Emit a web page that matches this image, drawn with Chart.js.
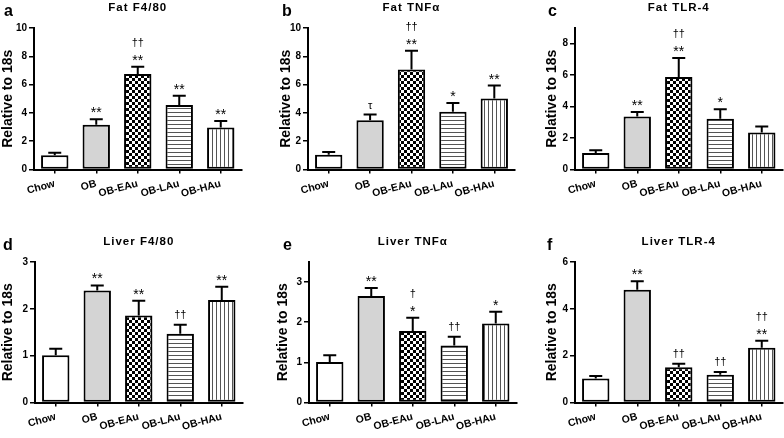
<!DOCTYPE html>
<html>
<head>
<meta charset="utf-8">
<script src="https://cdn.jsdelivr.net/npm/chart.js@4.4.0/dist/chart.umd.min.js"></script>
<style>
html, body { margin: 0; padding: 0; background: #fff; }
body { width: 784px; height: 438px; position: relative; overflow: hidden; }
.panel { position: absolute; }
.panel canvas { display: block; }
</style>
</head>
<body>
<div class="panel" style="left:0;top:0"><canvas id="a" width="260" height="205"></canvas></div>
<div class="panel" style="left:260px;top:0"><canvas id="b" width="260" height="205"></canvas></div>
<div class="panel" style="left:520px;top:0"><canvas id="c" width="264" height="205"></canvas></div>
<div class="panel" style="left:0;top:215px"><canvas id="d" width="260" height="223"></canvas></div>
<div class="panel" style="left:260px;top:215px"><canvas id="e" width="260" height="223"></canvas></div>
<div class="panel" style="left:520px;top:215px"><canvas id="f" width="264" height="223"></canvas></div>
<script>
// groups on the x axis
const groups = ['Chow', 'OB', 'OB-EAu', 'OB-LAu', 'OB-HAu'];

// a - Fat F4/80
const fatF480 = [1.0, 3.17, 6.75, 4.55, 2.96];
const fatF480Err = [0.18, 0.38, 0.52, 0.66, 0.47];
const fatF480Sig = ['', '**', '**', '**', '**'];
const fatF480Sig2 = ['', '', '††', '', ''];

// b - Fat TNFα
const fatTnf = [1.05, 3.48, 7.06, 4.09, 5.01];
const fatTnfErr = [0.19, 0.4, 1.34, 0.61, 0.92];
const fatTnfSig = ['', 'τ', '**', '*', '**'];
const fatTnfSig2 = ['', '', '††', '', ''];

// c - Fat TLR-4
const fatTlr4 = [1.05, 3.37, 5.89, 3.22, 2.36];
const fatTlr4Err = [0.17, 0.29, 1.2, 0.61, 0.38];
const fatTlr4Sig = ['', '**', '**', '*', ''];
const fatTlr4Sig2 = ['', '', '††', '', ''];

// d - Liver F4/80
const liverF480 = [1.01, 2.39, 1.86, 1.47, 2.19];
const liverF480Err = [0.14, 0.11, 0.31, 0.19, 0.28];
const liverF480Sig = ['', '**', '**', '††', '**'];
const liverF480Sig2 = ['', '', '', '', ''];

// e - Liver TNFα
const liverTnf = [1.01, 2.65, 1.78, 1.42, 1.97];
const liverTnfErr = [0.17, 0.2, 0.33, 0.22, 0.29];
const liverTnfSig = ['', '**', '*', '††', '*'];
const liverTnfSig2 = ['', '', '†', '', ''];

// f - Liver TLR-4
const liverTlr4 = [1.02, 4.82, 1.51, 1.19, 2.34];
const liverTlr4Err = [0.11, 0.36, 0.14, 0.11, 0.3];
const liverTlr4Sig = ['', '**', '††', '††', '**'];
const liverTlr4Sig2 = ['', '', '', '', '††'];

const FONT = "'Liberation Sans', Arial, sans-serif";
Chart.defaults.font.family = FONT;

// fill patterns for the bars
function makeFill(kind) {
    if (kind === 'white') return '#ffffff';
    if (kind === 'gray') return '#d4d4d4';
    const c = document.createElement('canvas');
    const g = c.getContext('2d');
    if (kind === 'checker') {
        c.width = 6; c.height = 6;
        g.fillStyle = '#fff'; g.fillRect(0, 0, 6, 6);
        g.fillStyle = '#000';
        g.fillRect(0, 0, 3, 3);
        g.fillRect(3, 3, 3, 3);
    } else if (kind === 'hlines') {
        c.width = 4; c.height = 4;
        g.fillStyle = '#fff'; g.fillRect(0, 0, 4, 4);
        g.fillStyle = '#555'; g.fillRect(0, 0, 4, 1);
    } else {
        c.width = 4; c.height = 4;
        g.fillStyle = '#fff'; g.fillRect(0, 0, 4, 4);
        g.fillStyle = '#555'; g.fillRect(0, 0, 1, 4);
    }
    return g.createPattern(c, 'repeat');
}
const fills = ['white', 'gray', 'checker', 'hlines', 'vlines'].map(makeFill);

// writes text so its bottom sits at bottomY, returns top of the glyphs
function markText(ctx, text, x, bottomY, font) {
    ctx.font = font;
    const m = ctx.measureText(text);
    const base = bottomY - m.actualBoundingBoxDescent;
    ctx.fillText(text, x, base);
    return base - m.actualBoundingBoxAscent;
}

function drawPanel(p) {
    const decor = {
        id: 'decor',
        afterDatasetsDraw(chart) {
            const ctx = chart.ctx;
            const y = chart.scales.y;
            const bars = chart.getDatasetMeta(0).data;
            ctx.save();
            ctx.strokeStyle = '#000';
            ctx.lineWidth = 2;
            ctx.fillStyle = '#000';
            ctx.textAlign = 'center';
            ctx.textBaseline = 'alphabetic';
            bars.forEach((bar, i) => {
                const y0 = y.getPixelForValue(p.means[i]);
                const y1 = y.getPixelForValue(p.means[i] + p.errs[i]);
                ctx.beginPath();
                ctx.moveTo(bar.x, y0);
                ctx.lineTo(bar.x, y1);
                ctx.moveTo(bar.x - 6.5, y1);
                ctx.lineTo(bar.x + 6.5, y1);
                ctx.stroke();
                let top = y1 - 6;
                if (p.sig[i]) {
                    const f = p.sig[i].indexOf('*') >= 0 ? '14px ' + FONT : '11px ' + FONT;
                    top = markText(ctx, p.sig[i], bar.x, top, f);
                }
                if (p.sig2[i]) {
                    markText(ctx, p.sig2[i], bar.x, top - 8, '11px ' + FONT);
                }
            });
            ctx.restore();
        },
        afterDraw(chart) {
            const ctx = chart.ctx;
            const a = chart.chartArea;
            ctx.save();
            ctx.fillStyle = '#000';
            ctx.textBaseline = 'middle';
            ctx.textAlign = 'center';
            ctx.font = 'bold 11.5px ' + FONT;
            ctx.letterSpacing = '1px';
            ctx.fillText(p.title, (a.left + a.right) / 2, a.top - 20);
            ctx.letterSpacing = '0px';
            ctx.textAlign = 'left';
            ctx.textBaseline = 'alphabetic';
            ctx.font = 'bold 16px ' + FONT;
            ctx.fillText(p.letter, p.letterX, a.top - 12);
            ctx.restore();
        }
    };

    new Chart(document.getElementById(p.letter), {
        type: 'bar',
        data: {
            labels: groups,
            datasets: [{
                data: p.means,
                backgroundColor: fills,
                borderColor: '#000',
                borderWidth: 2,
                borderSkipped: false,
                barPercentage: 0.66,
                categoryPercentage: 1
            }]
        },
        options: {
            responsive: false,
            animation: false,
            layout: { padding: { top: p.padTop, left: p.padLeft, right: p.padRight, bottom: 0 } },
            plugins: { legend: { display: false }, tooltip: { enabled: false } },
            scales: {
                x: {
                    grid: { display: true, offset: false, drawOnChartArea: false, tickLength: 4, color: '#000', lineWidth: 1.5 },
                    border: { color: '#000', width: 2 },
                    ticks: { color: '#000', font: { weight: 'bold', size: 10.5 }, minRotation: 15, maxRotation: 15, autoSkip: false, padding: 4 },
                    afterFit(s) { s.height = 35.5; }
                },
                y: {
                    min: 0,
                    max: p.max,
                    grid: { drawOnChartArea: false, tickLength: 5, color: '#000', lineWidth: 1.5 },
                    border: { color: '#000', width: 2 },
                    ticks: { stepSize: p.step, includeBounds: false, color: '#000', font: { weight: 'bold', size: 10 }, padding: 2 },
                    title: { display: true, text: 'Relative to 18s', color: '#000', font: { weight: 'bold', size: 14 }, padding: { top: 0, bottom: 0 } },
                    afterFit(s) { s.width = p.axisW; }
                }
            }
        },
        plugins: [decor]
    });
}

drawPanel({ letter: 'a', title: 'Fat F4/80', means: fatF480, errs: fatF480Err, sig: fatF480Sig, sig2: fatF480Sig2,
    max: 10, step: 2, padTop: 28, padLeft: 0, padRight: 18.5, axisW: 34, letterX: 4 });
drawPanel({ letter: 'b', title: 'Fat TNFα', means: fatTnf, errs: fatTnfErr, sig: fatTnfSig, sig2: fatTnfSig2,
    max: 10, step: 2, padTop: 28, padLeft: 18, padRight: 5, axisW: 30, letterX: 22 });
drawPanel({ letter: 'c', title: 'Fat TLR-4', means: fatTlr4, errs: fatTlr4Err, sig: fatTlr4Sig, sig2: fatTlr4Sig2,
    max: 9, step: 2, padTop: 28, padLeft: 23.5, padRight: 1.5, axisW: 31.5, letterX: 28 });
drawPanel({ letter: 'd', title: 'Liver F4/80', means: liverF480, errs: liverF480Err, sig: liverF480Sig, sig2: liverF480Sig2,
    max: 3, step: 1, padTop: 47, padLeft: 0, padRight: 17.5, axisW: 35, letterX: 3 });
drawPanel({ letter: 'e', title: 'Liver TNFα', means: liverTnf, errs: liverTnfErr, sig: liverTnfSig, sig2: liverTnfSig2,
    max: 3.5, step: 1, padTop: 47, padLeft: 14.6, padRight: 3.5, axisW: 34.4, letterX: 23 });
drawPanel({ letter: 'f', title: 'Liver TLR-4', means: liverTlr4, errs: liverTlr4Err, sig: liverTlr4Sig, sig2: liverTlr4Sig2,
    max: 6, step: 2, padTop: 47, padLeft: 23.6, padRight: 1.5, axisW: 31.4, letterX: 27 });
</script>
</body>
</html>
